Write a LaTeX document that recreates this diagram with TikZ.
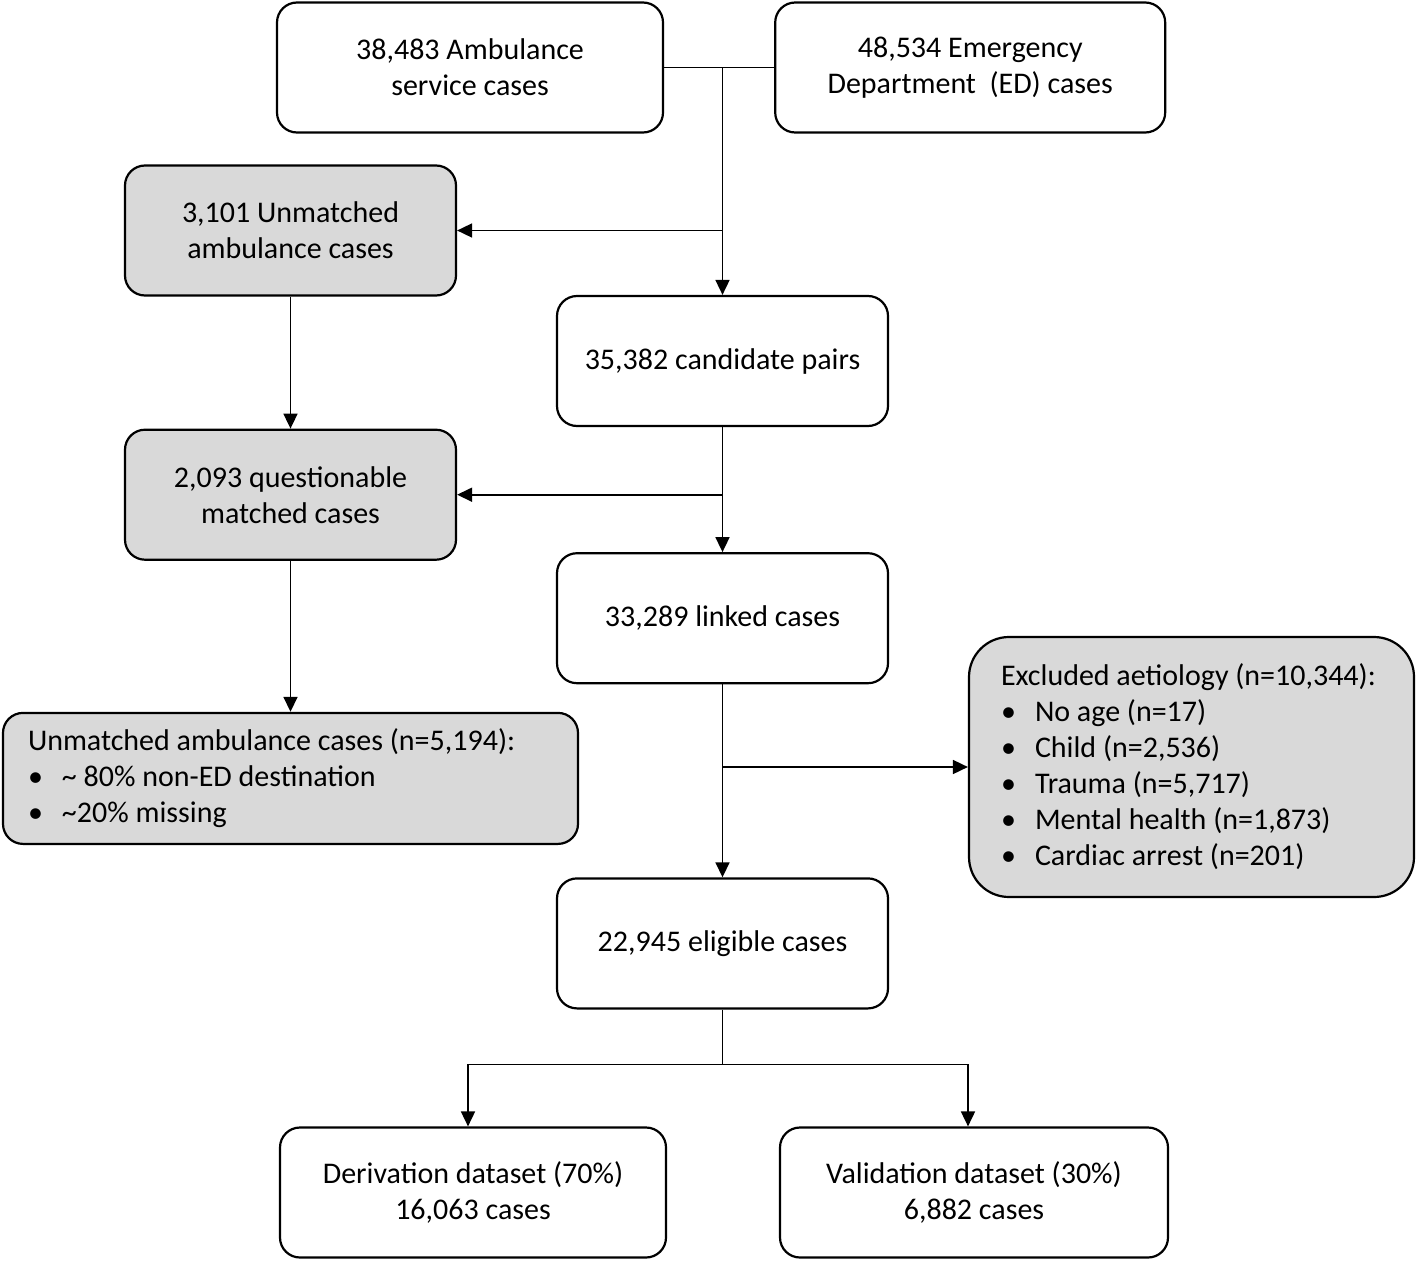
\documentclass[tikz,border=0pt]{standalone}
\usepackage{fontspec}
\setmainfont{Carlito}
\usetikzlibrary{arrows.meta, positioning}

\definecolor{boxgray}{HTML}{D9D9D9}
\newcommand{\bitem}[1]{\mbox{\makebox[34pt][l]{\textbullet}#1}}

\begin{document}
\begin{tikzpicture}[
  x=1pt, y=-1pt,
  font=\fontsize{30}{36}\selectfont,
  box/.style={rectangle, draw, line width=2.2pt, rounded corners=20pt, align=center, minimum width=331pt, minimum height=130pt},
  greybox/.style={box, fill=boxgray},
  listbox/.style={greybox, align=flush left, minimum width=0pt},
  arrow/.style={-{Triangle[length=15pt, width=14pt]}, line width=1.7pt},
  link/.style={line width=1.7pt},
]
\useasboundingbox (0,0) rectangle (1418,1263);

\node[box, minimum width=386pt] (amb) at (470,67.5) {38,483 Ambulance\\service cases};
\node[box, minimum width=390pt, right=110pt of amb] (ed) {48,534 Emergency\\Department~ (ED) cases};
\node[greybox] (unm1) at (290.5,230.5) {3,101 Unmatched\\ambulance cases};
\node[box] (cand) at (722.5,361) {35,382 candidate pairs};
\node[greybox, below=132pt of unm1] (quest) {2,093 questionable\\matched cases};
\node[box, below=125pt of cand] (linked) {33,289 linked cases};
\node[listbox, below=151pt of quest, text width=525pt, inner xsep=25pt, minimum height=131pt] (unm2)
  {\mbox{Unmatched ambulance cases (n=5,194):}\\
   \bitem{\textasciitilde\ 80\% non-ED destination}\\
   \bitem{\textasciitilde20\% missing}};
\node[listbox, rounded corners=40pt, text width=381pt, inner xsep=32pt, minimum height=260pt] (excl) at (1191.5,767)
  {\mbox{Excluded aetiology (n=10,344):}\\
   \bitem{No age (n=17)}\\
   \bitem{Child (n=2,536)}\\
   \bitem{Trauma (n=5,717)}\\
   \bitem{Mental health (n=1,873)}\\
   \bitem{Cardiac arrest (n=201)}};
\node[box, below=193pt of linked] (elig) {22,945 eligible cases};
\node[box, minimum width=386pt] (deriv) at (473,1192.5) {Derivation dataset (70\%)\\16,063 cases};
\node[box, minimum width=388pt] (valid) at (974,1192.5) {Validation dataset (30\%)\\6,882 cases};

% Connections
\draw[link] (amb.east) -- (ed.west);
\draw[arrow] (amb.east -| cand.north) -- (cand.north);
\draw[arrow] (unm1.east -| cand.north) -- (unm1.east);
\draw[arrow] (unm1) -- (quest);
\draw[arrow] (cand) -- (linked);
\draw[arrow] (quest.east -| cand.south) -- (quest.east);
\draw[arrow] (quest) -- (unm2);
\draw[arrow] (linked) -- (elig);
\draw[arrow] (excl.west -| linked.south) -- (excl.west);

\draw[link] (elig.south) -- ++(0,55) coordinate (split);
\draw[arrow] (split) -| ([xshift=-5pt]deriv.north);
\draw[arrow] (split) -| ([xshift=-6pt]valid.north);

\end{tikzpicture}
\end{document}
